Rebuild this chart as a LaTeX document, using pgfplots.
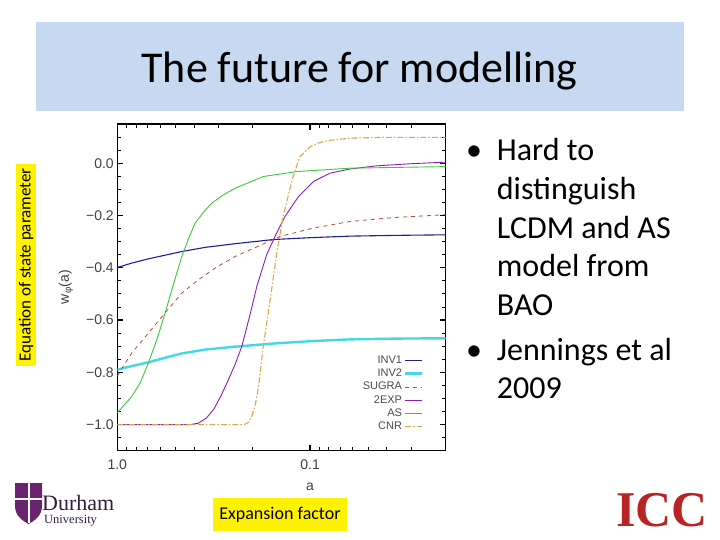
\documentclass[border=0pt]{standalone}
\usepackage{fontspec}
\setmainfont{Carlito}
\newfontfamily\plotfont{Liberation Sans}
\newfontfamily\logofont{Liberation Serif}
\usepackage{pgfplots}
\pgfplotsset{compat=1.18}
\definecolor{titlebox}{RGB}{198,217,240}
\definecolor{inva}{RGB}{30,30,150}
\definecolor{invb}{RGB}{70,215,230}
\definecolor{sugra}{RGB}{185,75,60}
\definecolor{twoexp}{RGB}{140,30,180}
\definecolor{asg}{RGB}{60,200,60}
\definecolor{cnr}{RGB}{225,165,80}
\definecolor{durham}{RGB}{104,36,109}
\definecolor{durtext}{RGB}{50,30,60}
\definecolor{icc}{RGB}{185,35,35}
\begin{document}
\begin{tikzpicture}[x=1pt,y=1pt]
\useasboundingbox (0,0) rectangle (720,-540);
\fill[white] (0,0) rectangle (720,-540);
% title
\fill[titlebox] (36,-21.6) rectangle (684,-111);
\node[anchor=base, inner sep=0, font=\fontsize{44}{48}\selectfont] at (359.5,-83) {The future for modelling};
% side label
\node[rotate=90, fill=yellow, inner xsep=4pt, inner ysep=3pt, font=\fontsize{17}{17}\selectfont] at (26,-265) {Equation of state parameter};
% bottom label
\node[fill=yellow, minimum width=134pt, minimum height=33pt, inner sep=0, font=\fontsize{18}{18}\selectfont] at (280,-514.5) {Expansion factor};
% bullets
\begin{scope}[every node/.style={anchor=base west, inner sep=0, font=\fontsize{32}{38}\selectfont}]
\node at (466,-161) {\textbullet};
\node at (496.7,-161) {Hard to};
\node at (496.7,-199.5) {distinguish};
\node at (496.7,-238) {LCDM and AS};
\node at (496.7,-276.5) {model from};
\node at (496.7,-315) {BAO};
\node at (466,-360) {\textbullet};
\node at (496.7,-360) {Jennings et al};
\node at (496.7,-398) {2009};
\end{scope}
% Durham logo
\fill[durham] (15,-483) -- (42,-483) -- (42,-506) .. controls (42,-516) and (34,-521) .. (28.5,-524) .. controls (23,-521) and (15,-516) .. (15,-506) -- cycle;
\draw[white, line width=2pt] (28.5,-483) -- (28.5,-523) (15,-499) -- (42,-499);
\node[anchor=base west, inner sep=0, text=durtext, font=\logofont\fontsize{22}{22}\selectfont] at (42,-510) {Durham};
\node[anchor=base west, inner sep=0, text=durtext, font=\logofont\fontsize{12.5}{12.5}\selectfont] at (44,-523) {University};
% ICC logo
\node[anchor=base west, inner sep=0, text=icc, font=\logofont\bfseries\fontsize{50}{50}\selectfont] at (616,-526) {ICC};
% axis labels
\node[rotate=90, inner sep=0, text=black!75, font=\plotfont\fontsize{14}{14}\selectfont] at (66,-287) {w\textsubscript{φ}(a)};
\node[inner sep=0, text=black!75, font=\plotfont\fontsize{14}{14}\selectfont] at (310,-487) {a};
\begin{axis}[
  at={(117.3pt,-450.7pt)}, anchor=south west,
  scale only axis, width=328.4pt, height=326.7pt,
  xmode=log, x dir=reverse,
  xmin=0.0198, xmax=1, ymin=-1.1, ymax=0.15,
  xtick={1,0.1}, xticklabels={1.0,0.1},
  minor xtick={0.03,0.04,0.05,0.06,0.07,0.08,0.09,0.2,0.3,0.4,0.5,0.6,0.7,0.8,0.9},
  ytick={-1,-0.8,-0.6,-0.4,-0.2,0}, yticklabels={−1.0,−0.8,−0.6,−0.4,−0.2,0.0},
  minor ytick={-1.1,-1.05,-0.95,-0.9,-0.85,-0.75,-0.7,-0.65,-0.55,-0.5,-0.45,-0.35,-0.3,-0.25,-0.15,-0.1,-0.05,0.05,0.1,0.15},
  tick align=inside,
  axis line style={line width=1.2pt},
  major tick style={line width=1.2pt, black}, minor tick style={line width=0.8pt, black},
  major tick length=6pt, minor tick length=4pt,
  ticklabel style={font=\plotfont\fontsize{14}{14}\selectfont, text=black!75},
  xticklabel style={yshift=-5pt},
  legend style={draw=none, fill=none, at={(1,0)}, anchor=south east, xshift=-19pt, yshift=15pt,
    font=\plotfont\fontsize{11}{11}\selectfont, text=black!70, legend cell align=right,
    nodes={inner ysep=1.65pt, text height=8pt, text depth=2pt}},
  legend plot pos=right,
]
\addplot[inva, line width=1.1pt] coordinates {(1,-0.399) (0.84,-0.382) (0.69,-0.366) (0.55,-0.35) (0.463,-0.338) (0.35,-0.322) (0.245,-0.308) (0.155,-0.292) (0.1,-0.285) (0.0619,-0.279) (0.035,-0.276) (0.0198,-0.274)};
\addlegendentry{INV1}
\addplot[invb, line width=2.4pt] coordinates {(1,-0.790) (0.84,-0.776) (0.69,-0.762) (0.55,-0.742) (0.463,-0.728) (0.35,-0.713) (0.245,-0.702) (0.155,-0.690) (0.1,-0.681) (0.0619,-0.674) (0.035,-0.671) (0.0198,-0.670)};
\addlegendentry{INV2}
\addplot[sugra, line width=0.8pt, dash pattern=on 4pt off 4pt] coordinates {(1,-0.815) (0.92,-0.77) (0.841,-0.726) (0.69,-0.65) (0.565,-0.573) (0.463,-0.497) (0.38,-0.446) (0.311,-0.401) (0.245,-0.357) (0.19,-0.321) (0.143,-0.280) (0.096,-0.248) (0.0619,-0.223) (0.037,-0.208) (0.0198,-0.197)};
\addlegendentry{SUGRA}
\addplot[twoexp, line width=0.9pt] coordinates {(1,-1.0) (0.42,-1.0) (0.38,-0.995) (0.345,-0.975) (0.315,-0.94) (0.29,-0.89) (0.27,-0.841) (0.245,-0.77) (0.226,-0.701) (0.205,-0.58) (0.189,-0.472) (0.168,-0.35) (0.152,-0.28) (0.135,-0.204) (0.115,-0.128) (0.096,-0.070) (0.0787,-0.038) (0.0619,-0.022) (0.045,-0.01) (0.03,-0.002) (0.0198,0.004)};
\addlegendentry{2EXP}
\addplot[asg, line width=0.9pt] coordinates {(1,-0.955) (0.92,-0.925) (0.841,-0.892) (0.76,-0.84) (0.69,-0.764) (0.62,-0.67) (0.565,-0.573) (0.51,-0.46) (0.463,-0.357) (0.425,-0.285) (0.395,-0.229) (0.355,-0.185) (0.324,-0.153) (0.28,-0.12) (0.245,-0.096) (0.175,-0.051) (0.117,-0.032) (0.0619,-0.019) (0.0198,-0.013)};
\addlegendentry{AS}
\addplot[cnr, line width=1.1pt, dash pattern=on 6pt off 2pt on 1.5pt off 2pt] coordinates {(1,-1.0) (0.22,-1.0) (0.21,-0.993) (0.2,-0.965) (0.192,-0.92) (0.185,-0.854) (0.175,-0.701) (0.161,-0.522) (0.149,-0.344) (0.138,-0.204) (0.124,-0.064) (0.113,0.025) (0.1,0.063) (0.09,0.078) (0.0818,0.086) (0.0619,0.096) (0.04,0.099) (0.0198,0.099)};
\addlegendentry{CNR}
\end{axis}
\end{tikzpicture}
\end{document}
